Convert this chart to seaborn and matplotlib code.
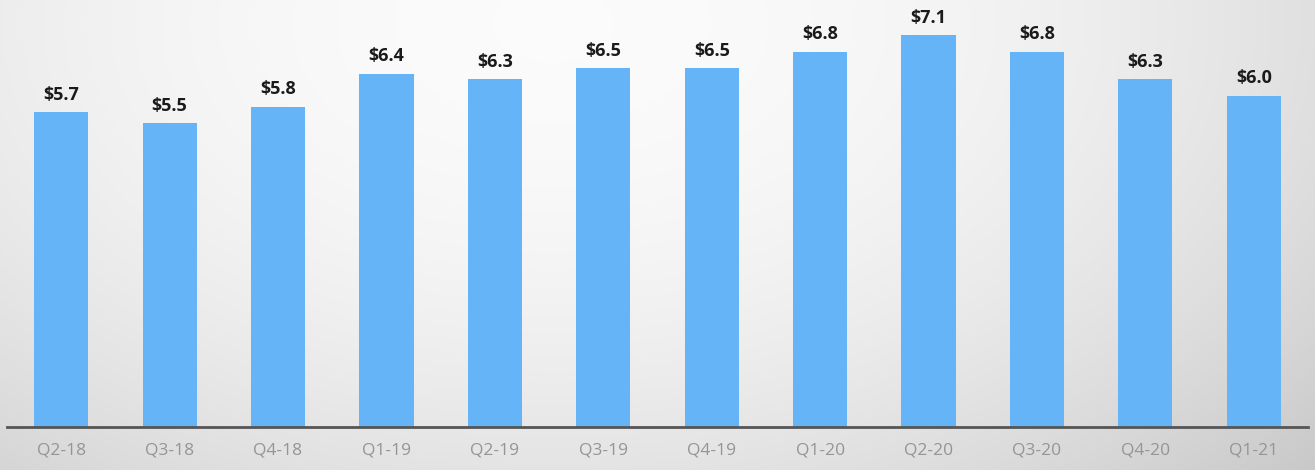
import numpy as np
import pandas as pd
import matplotlib
matplotlib.use("Agg")
import matplotlib.pyplot as plt
import seaborn as sns

quarters = ["Q2-18", "Q3-18", "Q4-18", "Q1-19", "Q2-19", "Q3-19",
            "Q4-19", "Q1-20", "Q2-20", "Q3-20", "Q4-20", "Q1-21"]
revenue = [5.7, 5.5, 5.8, 6.4, 6.3, 6.5, 6.5, 6.8, 7.1, 6.8, 6.3, 6.0]

df = pd.DataFrame({"quarter": quarters, "revenue": revenue})

sns.set_theme(style="white")
plt.rcParams["font.family"] = ["Open Sans", "DejaVu Sans"]

W, H = 1315, 470
fig = plt.figure(figsize=(W / 100, H / 100), dpi=100)

# soft radial backdrop
bg = fig.add_axes([0, 0, 1, 1], zorder=0)
yy, xx = np.mgrid[0:H, 0:W]
cx, cy = 0.42 * W, 0.05 * H
r = np.sqrt(((xx - cx) / (0.85 * W)) ** 2 + ((yy - cy) / (1.5 * H)) ** 2)
shade = 0.985 - 0.23 * np.clip(r, 0, 1.2) ** 2
bg.imshow(np.dstack([shade] * 3), extent=[0, 1, 0, 1], aspect="auto", origin="upper")
bg.axis("off")

ax = fig.add_axes([7 / W, (H - 427) / H, (1308 - 7) / W, 427 / H], zorder=1)
ax.patch.set_alpha(0)

sns.barplot(data=df, x="quarter", y="revenue", color="#64b4f7",
            saturation=1, width=0.5, linewidth=0, ax=ax)

ax.set_xlim(-0.5, len(quarters) - 0.5)
ax.set_ylim(0, 7.735)
ax.set_xlabel("")
ax.set_ylabel("")
ax.set_yticks([])
for side in ["top", "right", "left"]:
    ax.spines[side].set_visible(False)
ax.spines["bottom"].set_color("#555555")
ax.spines["bottom"].set_linewidth(2)
ax.tick_params(axis="x", length=0, pad=11, labelsize=12.5, labelcolor="#959595")

ax.bar_label(ax.containers[0], labels=[f"${v:.1f}" for v in revenue],
             padding=6, fontsize=13, fontweight="bold", color="#1a1a1a")

fig.savefig("out.png", dpi=100)
